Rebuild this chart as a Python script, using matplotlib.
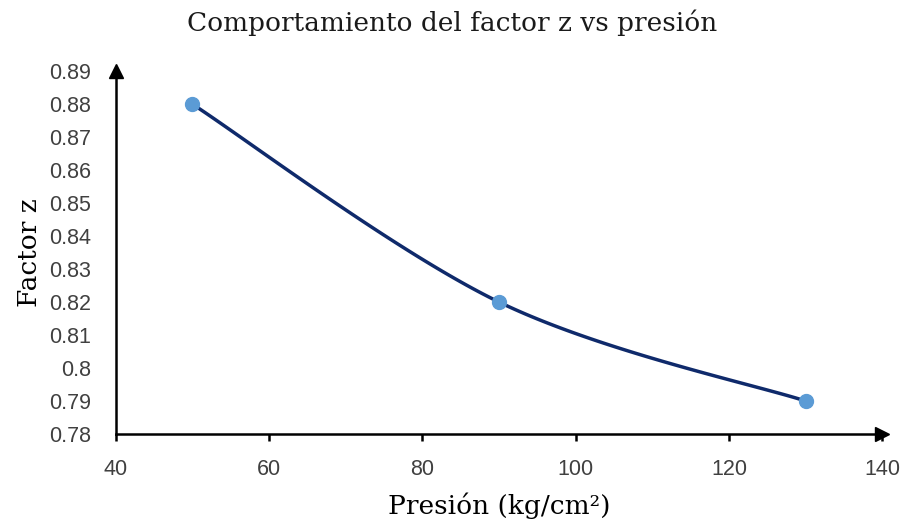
import numpy as np
import matplotlib.pyplot as plt

# datos
presion = [50, 90, 130]
factor_z = [0.88, 0.82, 0.79]

x_ticks = [40, 60, 80, 100, 120, 140]
y_ticks = [0.78, 0.79, 0.80, 0.81, 0.82, 0.83, 0.84, 0.85, 0.86, 0.87, 0.88, 0.89]
y_labels = ['0.78', '0.79', '0.8', '0.81', '0.82', '0.83', '0.84', '0.85', '0.86', '0.87', '0.88', '0.89']


# Curva suavizada tipo Excel (Bezier con puntos de control Catmull-Rom)
def suavizar(xs, ys, n=60):
    pts = np.column_stack([xs, ys]).astype(float)
    out = []
    for i in range(len(pts) - 1):
        p0 = pts[i - 1] if i > 0 else pts[i]
        p1 = pts[i]
        p2 = pts[i + 1]
        p3 = pts[i + 2] if i + 2 < len(pts) else pts[i + 1]
        c1 = p1 + (p2 - p0) / 6
        c2 = p2 - (p3 - p1) / 6
        t = np.linspace(0, 1, n)[:, None]
        seg = ((1 - t) ** 3) * p1 + 3 * ((1 - t) ** 2) * t * c1 + 3 * (1 - t) * t ** 2 * c2 + t ** 3 * p2
        out.append(seg if i == 0 else seg[1:])
    out = np.vstack(out)
    return out[:, 0], out[:, 1]


fig = plt.figure(figsize=(9.04, 5.27), dpi=100)
ax = fig.add_axes([0.128, 0.1765, 0.848, 0.6885])

sx, sy = suavizar(presion, factor_z)
ax.plot(sx, sy, color='#0f2a6b', lw=2.5, zorder=2)
ax.plot(presion, factor_z, 'o', color='#5b9bd5', ms=10, zorder=3)

ax.set_xlim(40, 140)
ax.set_ylim(0.78, 0.89)
ax.set_xticks(x_ticks)
ax.set_yticks(y_ticks)
ax.set_yticklabels(y_labels)

for s in ['top', 'right']:
    ax.spines[s].set_visible(False)
for s in ['left', 'bottom']:
    ax.spines[s].set_linewidth(1.8)
    ax.spines[s].set_color('black')

ax.tick_params(axis='x', direction='out', length=5, width=1.8, pad=13,
               labelsize=15.5, labelcolor='#404040')
ax.tick_params(axis='y', length=0, pad=18, labelsize=15.5, labelcolor='#404040')
for lab in ax.get_xticklabels() + ax.get_yticklabels():
    lab.set_family('Liberation Sans')

# flechas al final de los ejes
ax.plot(1, 0, '>', color='black', ms=10, transform=ax.transAxes, clip_on=False)
ax.plot(0, 1, '^', color='black', ms=10, transform=ax.transAxes, clip_on=False)

fig.text(0.5, 0.957, 'Comportamiento del factor z vs presión', ha='center', va='center',
         fontsize=19, family='DejaVu Serif', color='#1a1a1a')
ax.set_xlabel('Presión (kg/cm²)', fontsize=19, family='DejaVu Serif', labelpad=9)
ax.set_ylabel('Factor z', fontsize=19, family='DejaVu Serif', labelpad=5)

fig.savefig('out.png', dpi=100, facecolor='white')
